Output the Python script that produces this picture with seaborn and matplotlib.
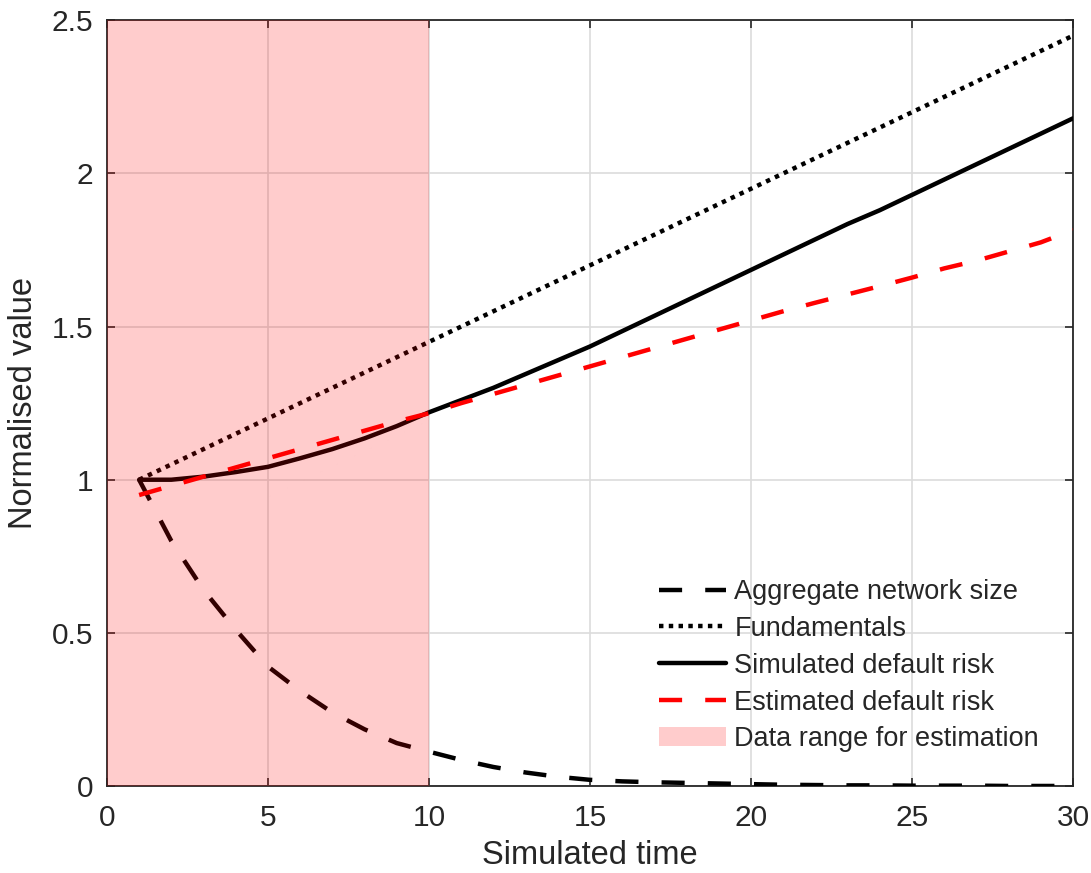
import numpy as np
import matplotlib
matplotlib.use('Agg')
import matplotlib.pyplot as plt
import seaborn as sns
import pandas as pd
from matplotlib.patches import Patch
from matplotlib.lines import Line2D

# Values
time = list(range(1, 31))
aggregate_size = [1.00, 0.80, 0.64, 0.51, 0.39, 0.31, 0.24, 0.185, 0.14, 0.112,
                  0.085, 0.062, 0.044, 0.030, 0.020, 0.015, 0.012, 0.010, 0.008, 0.006,
                  0.004, 0.003, 0.002, 0.002, 0.001, 0.001, 0.001, 0.0, 0.0, 0.0]
fundamentals = [1.00, 1.05, 1.10, 1.15, 1.20, 1.25, 1.30, 1.35, 1.40, 1.45,
                1.50, 1.55, 1.60, 1.65, 1.70, 1.75, 1.80, 1.85, 1.90, 1.95,
                2.00, 2.05, 2.10, 2.15, 2.20, 2.25, 2.30, 2.35, 2.40, 2.45]
simulated_risk = [1.00, 1.00, 1.01, 1.025, 1.042, 1.07, 1.10, 1.135, 1.175, 1.22,
                  1.26, 1.30, 1.345, 1.39, 1.435, 1.485, 1.535, 1.585, 1.635, 1.685,
                  1.735, 1.785, 1.835, 1.88, 1.93, 1.98, 2.03, 2.08, 2.13, 2.18]
estimated_risk = [0.95, 0.98, 1.01, 1.04, 1.07, 1.10, 1.13, 1.16, 1.19, 1.217,
                  1.25, 1.28, 1.31, 1.34, 1.37, 1.40, 1.43, 1.46, 1.49, 1.52,
                  1.55, 1.578, 1.605, 1.632, 1.66, 1.69, 1.715, 1.745, 1.775, 1.815]
estimation_window = (0, 10)

labels = ['Aggregate network size', 'Fundamentals',
          'Simulated default risk', 'Estimated default risk']
styles = {
    'Aggregate network size': dict(color='black', dashes=(5.2, 5.2)),
    'Fundamentals': dict(color='black', dashes=(1, 1.2)),
    'Simulated default risk': dict(color='black', dashes=None),
    'Estimated default risk': dict(color='red', dashes=(5.2, 5.2)),
}

df = pd.DataFrame({'t': time,
                   labels[0]: aggregate_size,
                   labels[1]: fundamentals,
                   labels[2]: simulated_risk,
                   labels[3]: estimated_risk})

sns.set_style('ticks')
plt.rcParams['font.family'] = ['Liberation Sans', 'DejaVu Sans']

fig = plt.figure(figsize=(10.91, 8.73), dpi=100)
ax = fig.add_axes([0.098, 0.0997, 0.8855, 0.877])

lw = 3.2
for name in labels:
    st = styles[name]
    sns.lineplot(data=df, x='t', y=name, ax=ax, color=st['color'],
                 linewidth=lw, zorder=3)
    l = ax.lines[-1]
    if st['dashes'] is not None:
        l.set_dashes(st['dashes'])
        l.set_dash_capstyle('butt')

# shaded estimation window drawn over the lines, like the reference
ax.axvspan(*estimation_window, color='red', alpha=0.2, linewidth=0, zorder=4)

ax.set_xlim(0, 30)
ax.set_ylim(0, 2.5)
ax.set_xticks([0, 5, 10, 15, 20, 25, 30])
ax.set_yticks([0, 0.5, 1, 1.5, 2, 2.5])
ax.set_yticklabels(['0', '0.5', '1', '1.5', '2', '2.5'])
ax.grid(True, color='#dcdcdc', linewidth=1.2, zorder=0)
ax.set_axisbelow(True)

for s in ax.spines.values():
    s.set_color('#262626')
    s.set_linewidth(1.3)
ax.tick_params(direction='in', length=6, width=1.2, color='#262626',
               top=True, right=True, labelsize=21.5, labelcolor='#262626')
ax.tick_params(axis='x', pad=13)
ax.tick_params(axis='y', pad=10)

ax.set_xlabel('Simulated time', fontsize=23.5, color='#262626', labelpad=6)
ax.set_ylabel('Normalised value', fontsize=23.5, color='#262626', labelpad=9)

handles = []
for name in labels:
    st = styles[name]
    h = Line2D([], [], color=st['color'], linewidth=lw)
    if st['dashes'] is not None:
        h.set_dashes(st['dashes'])
        h.set_dash_capstyle('butt')
    handles.append(h)
handles.append(Patch(facecolor='red', alpha=0.2, linewidth=0))
leg = ax.legend(handles, labels + ['Data range for estimation'],
                loc='lower right', bbox_to_anchor=(0.99, 0.012),
                frameon=False, fontsize=19.5, handlelength=2.5,
                handletextpad=0.3, labelspacing=0.4)
for txt in leg.get_texts():
    txt.set_color('#262626')

fig.savefig('out.png', dpi=100)
